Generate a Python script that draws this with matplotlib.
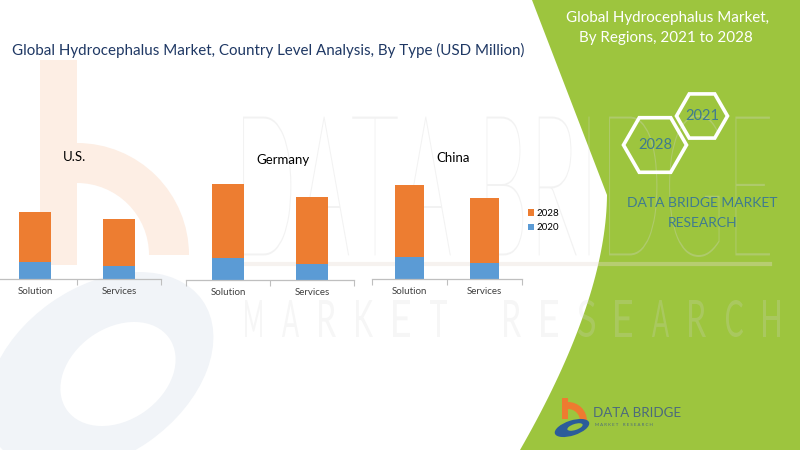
import matplotlib
matplotlib.use("Agg")
import matplotlib.pyplot as plt
import numpy as np
from matplotlib.patches import Polygon, Rectangle, Wedge, Ellipse, RegularPolygon, PathPatch
from matplotlib.textpath import TextPath
from matplotlib.font_manager import FontProperties
from matplotlib.transforms import Affine2D

plt.rcParams['font.family'] = ['Lato', 'DejaVu Sans']

# ---- data ----
countries = ["U.S.", "Germany", "China"]
types = ["Solution", "Services"]
years = ["2020", "2028"]
values_2020 = {"U.S.": [17, 13], "Germany": [22, 16], "China": [22, 16]}
values_2028 = {"U.S.": [50, 47], "Germany": [74, 67], "China": [72, 65]}

ORANGE = "#ED7D31"
BLUE = "#5B9BD5"
GREEN = "#9DC53E"
TEAL = "#3F7B8F"
NAVY = "#1F3864"

W, H = 800, 450
fig = plt.figure(figsize=(8, 4.5), dpi=100)
fig.patch.set_facecolor("white")

# ---- background layer in pixel coordinates ----
bg = fig.add_axes([0, 0, 1, 1], zorder=0)
bg.set_xlim(0, W)
bg.set_ylim(H, 0)
bg.axis("off")

# faint "b" logo on the left
bg.add_patch(Rectangle((40, 60), 37, 205, color="#FDEEE4", lw=0, zorder=1))
bg.add_patch(Wedge((77, 255), 112, -90, 0, width=40, color="#FDEEE4", lw=0, zorder=1))
bg.add_patch(Ellipse((100, 372), 250, 170, angle=-35, color="#F1F4F8", lw=0, zorder=1))
bg.add_patch(Ellipse((118, 374), 125, 92, angle=-35, color="white", lw=0, zorder=1))

# green side panel
top = np.array([[532, 0], [607, 195]])
t = np.linspace(0, 1, 40)
p0, p1, p2 = np.array([607, 195]), np.array([606, 300]), np.array([520, 450])
curve = ((1 - t)[:, None] ** 2) * p0 + (2 * (1 - t) * t)[:, None] * p1 + (t[:, None] ** 2) * p2
edge = np.vstack([top, curve[1:], [[W, H], [W, 0]]])
bg.add_patch(Polygon(edge, closed=True, color=GREEN, lw=0, zorder=2))

# watermark lettering
WM = "#D6D6D6"


def stretched_text(s, x0, x1, y_top, y_bot, color, alpha, weight="light"):
    tp = TextPath((0, 0), s, size=100, prop=FontProperties(family="Lato", weight=weight))
    ext = tp.get_extents()
    sx = (x1 - x0) / ext.width
    sy = (y_bot - y_top) / ext.height
    tr = Affine2D().translate(-ext.x0, -ext.y0).scale(sx, -sy).translate(x0, y_bot)
    bg.add_patch(PathPatch(tr.transform_path(tp), color=color, alpha=alpha, lw=0, zorder=3))


stretched_text("DATA BRIDGE", 243, 770, 115, 257, WM, 0.3)
bg.plot([240, 770], [264, 264], color="#E8DCD3", alpha=0.35, lw=3, zorder=3)
for i, ch in enumerate("MARKET RESEARCH"):
    if ch == " ":
        continue
    cx = 245 + i * 37
    stretched_text(ch, cx, cx + 17, 300, 337, WM, 0.22, weight="normal")

# ---- titles ----
bg.text(12, 50, "Global Hydrocephalus Market, Country Level Analysis, By Type (USD Million)",
        fontsize=10.9, color=NAVY, va="center", ha="left", zorder=5)
bg.text(667, 18, "Global Hydrocephalus Market,", fontsize=10.9, color="white",
        va="center", ha="center", zorder=5)
bg.text(666, 38, "By Regions, 2021 to 2028", fontsize=10.9, color="white",
        va="center", ha="center", zorder=5)

# hexagons with years
for (cx, cy, r, label) in [(702, 116, 25.5, "2021"), (655, 145, 31.5, "2028")]:
    bg.add_patch(RegularPolygon((cx, cy), 6, radius=r, orientation=np.pi / 6,
                                fill=False, ec="white", lw=2.6, zorder=5))
    bg.text(cx, cy, label, fontsize=10.5, color=TEAL, ha="center", va="center", zorder=6)

bg.text(702, 203, "DATA BRIDGE MARKET", fontsize=10, color=TEAL, ha="center", va="center", zorder=5)
bg.text(703, 223, "RESEARCH", fontsize=10, color=TEAL, ha="center", va="center", zorder=5)

# bottom logo
bg.add_patch(Rectangle((562, 398), 6, 21, color="#EE7B30", lw=0, zorder=5))
bg.add_patch(Wedge((568, 421), 19, -90, 0, width=7, color="#EE7B30", lw=0, zorder=5))
bg.add_patch(Ellipse((572, 428), 36, 15, angle=-18, color="#2B5C9A", lw=0, zorder=6))
bg.add_patch(Ellipse((575, 427), 16, 6, angle=-18, color=GREEN, lw=0, zorder=7))
bg.text(593, 413, "DATA BRIDGE", fontsize=9.6, color="#4C6A7C", ha="left", va="center", zorder=5)
bg.text(595, 425, "M A R K E T    R E S E A R C H", fontsize=3.2, color="#4C6A7C",
        ha="left", va="center", zorder=5)

# ---- stacked bar panels (pixel boxes: left, right, baseline, title x, title y) ----
panels = {"U.S.": (-7, 161, 279, 74, 157),
          "Germany": (186, 354, 280, 283, 160),
          "China": (372, 522, 278.5, 453, 158)}
PANEL_H = 130

for c in countries:
    x0, x1, base, tx, ty = panels[c]
    ax = fig.add_axes([x0 / W, 1 - base / H, (x1 - x0) / W, PANEL_H / H], zorder=4)
    ax.patch.set_alpha(0)
    xs = np.arange(len(types))
    b20 = ax.bar(xs, values_2020[c], width=0.39, color=BLUE, label="2020")
    b28 = ax.bar(xs, values_2028[c], width=0.39, bottom=values_2020[c], color=ORANGE, label="2028")
    ax.set_xlim(-0.5, len(types) - 0.5)
    ax.set_ylim(0, PANEL_H)
    for s in ["top", "left", "right"]:
        ax.spines[s].set_visible(False)
    ax.spines["bottom"].set_color("#BFBFBF")
    ax.spines["bottom"].set_linewidth(0.9)
    ax.set_yticks([])
    ax.set_xticks(np.arange(-0.5, len(types)))
    ax.set_xticklabels([])
    ax.tick_params(axis="x", which="major", length=4, color="#BFBFBF", direction="out")
    ax.set_xticks(xs, minor=True)
    ax.set_xticklabels(types, minor=True, fontsize=7, color="#404040")
    ax.tick_params(axis="x", which="minor", length=0, pad=6)
    bg.text(tx, ty, c, fontsize=9.5, color="black", ha="center", va="center", zorder=5)

handles = [b28, b20]
fig.legend(handles, ["2028", "2020"], loc="upper left",
           bbox_to_anchor=(528 / W, 1 - 209 / H), frameon=False, fontsize=7,
           handlelength=0.6, handleheight=0.6, handletextpad=0.3, labelspacing=0.55,
           borderaxespad=0, borderpad=0)

fig.savefig("out.png", dpi=100, facecolor="white")
